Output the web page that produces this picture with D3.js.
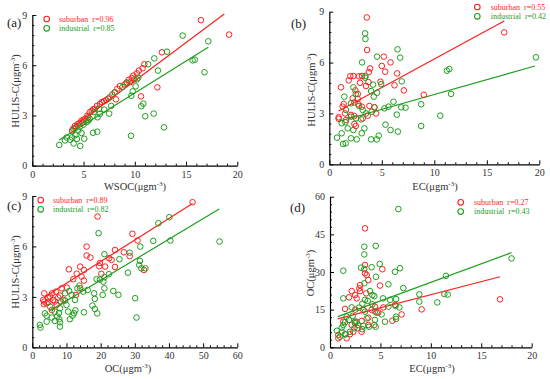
<!DOCTYPE html>
<html>
<head>
<meta charset="utf-8">
<script src="https://cdnjs.cloudflare.com/ajax/libs/d3/7.8.5/d3.min.js"></script>
<style>
body { margin: 0; background: #fff; }
svg { display: block; font-family: "Liberation Serif", "Times New Roman", serif; }
</style>
</head>
<body>
<svg class="mainSvg" width="550" height="379"></svg>
<script>
var red = "#ff1f1f", green = "#1e9e1e";

// (a) WSOC vs HULIS-C
var subA = [[16.45,8.69],[19.2,7.83],[12.65,6.77],[10.93,6.06],[10.76,5.82],[10.4,5.68],[10.2,5.52],[9.85,5.38],[9.7,5.24],[9.95,5.15],
  [12.2,4.68],[10.6,4.14],[9.4,5.12],[9.2,4.96],[8.55,4.76],[8.3,4.6],[8.06,4.38],[8.16,3.96],[7.8,4.25],[7.4,4.0],[7.2,3.92],[6.6,3.69],
  [6.3,3.57],[5.95,3.37],[5.6,3.19],[5.37,2.99],[5.45,2.9],[5.17,2.81],[4.8,2.69],[4.6,2.55],[4.4,2.47],[4.16,2.37],[4.0,2.22],[3.9,2.12],
  [5.0,2.75],[6.8,3.8],[7.0,3.85],[9.0,4.85],[9.6,5.0],[5.8,3.28],[6.1,3.4],[4.9,2.6]];
var indA = [[14.67,7.77],[17.17,7.43],[13.14,6.81],[11.9,6.41],[11.3,6.06],[12.26,5.68],[15.64,6.29],[15.85,6.33],[16.8,5.58],[10.34,5.26],
  [10.2,5.15],[10.08,4.74],[9.24,4.96],[8.8,4.7],[8.03,4.38],[7.55,4.08],[9.79,4.44],[9.66,4.18],[10.83,3.71],[10.63,3.55],[11.84,3.11],
  [11.02,2.95],[12.85,2.29],[9.63,1.79],[7.7,3.57],[7.5,3.11],[7.02,3.35],[6.6,3.1],[6.37,2.89],[6.34,2.03],[5.92,1.97],[6.0,3.2],[5.6,2.81],
  [5.3,2.6],[5.0,2.45],[4.65,2.33],[4.5,2.1],[4.2,1.83],[5.07,1.61],[4.68,1.18],[3.87,1.69],[4.03,1.33],[4.35,1.6],[3.35,1.69],[3.19,1.51],
  [2.63,1.24],[3.9,2.05],[4.2,2.25],[5.5,2.7],[6.5,3.4],[4.8,1.95],[3.7,1.55]];
var fitSubA = [[4.0,2.33],[18.73,9.06]];
var fitIndA = [[2.63,1.53],[17.17,7.07]];

// (b) EC vs HULIS-C
var subB = [[3.57,8.66],[16.66,7.78],[3.6,6.74],[5.19,6.35],[5.83,6.01],[5.0,5.8],[5.32,5.46],[3.89,5.66],[3.76,5.44],[6.46,5.36],
  [2.0,5.2],[2.29,5.21],[2.83,5.19],[3.12,5.21],[1.85,4.95],[1.11,4.54],[2.48,4.36],[2.71,4.15],[2.93,4.81],[3.5,4.62],[3.73,4.85],
  [4.87,4.87],[6.21,4.66],[7.1,4.36],[9.0,4.1],[2.23,3.89],[2.71,3.85],[1.37,3.56],[1.27,3.4],[2.39,3.65],[2.77,3.54],[3.82,3.44],
  [4.3,3.36],[4.46,3.0],[3.66,2.87],[3.18,2.71],[2.39,2.85],[2.07,2.91],[0.89,2.77],[0.89,2.69],[1.59,2.61],[2.39,2.38],[2.52,2.26],
  [1.5,3.0],[3.1,3.4]];
var indB = [[19.68,6.31],[3.41,7.72],[3.44,7.39],[3.12,6.01],[4.55,6.35],[6.5,6.78],[6.75,6.29],[11.43,5.62],[11.2,5.52],[11.6,4.15],
  [6.9,4.89],[3.44,5.21],[3.41,5.11],[4.17,4.7],[4.94,4.73],[4.55,4.22],[3.98,4.32],[4.24,3.99],[1.43,3.99],[2.29,4.54],[2.52,4.15],
  [6.11,3.69],[8.75,3.54],[6.43,2.93],[10.57,2.87],[8.75,2.26],[5.35,2.34],[5.83,2.02],[6.53,1.93],[4.71,1.69],[4.52,1.47],[3.98,1.47],
  [3.09,1.83],[2.61,1.47],[2.07,1.53],[1.56,1.24],[1.31,1.2],[0.73,1.57],[1.18,1.83],[1.75,2.12],[2.29,2.02],[3.34,2.12],[2.55,2.71],
  [1.59,3.2],[2.07,2.81],[3.03,2.65],[3.5,3.0],[4.04,3.1],[4.3,3.36],[5.25,3.3],[5.64,3.4],[6.85,3.36],[7.26,3.34],[3.18,3.2],
  [2.83,3.44],[2.07,3.6],[1.18,2.42],[1.53,2.48]];
var fitSubB = [[0.89,3.14],[16.66,8.45]];
var fitIndB = [[0.8,2.51],[19.59,5.8]];

// (c) OC vs HULIS-C
var subC = [[46.9,8.63],[19.1,7.78],[29.3,6.75],[30.8,6.35],[15.9,5.99],[24.2,5.79],[15.9,5.46],[17.0,5.34],[26.8,5.65],[28.5,5.42],
  [22.5,5.3],[23.2,5.2],[19.8,5.02],[19.6,4.82],[14.0,4.8],[21.3,4.8],[24.2,4.78],[10.7,4.64],[15.1,4.6],[13.0,4.38],[12.0,4.05],
  [14.4,4.21],[15.1,3.97],[20.2,4.37],[32.7,4.6],[10.1,3.55],[8.6,3.51],[6.9,3.31],[5.8,3.21],[3.5,3.21],[5.2,3.02],[8.1,3.08],
  [9.1,2.82],[6.6,2.72],[4.7,2.92],[3.2,2.82],[3.5,2.72],[4.2,2.62],[5.7,2.22],[14.0,3.51],[12.8,3.12],[3.4,2.56],[7.1,2.52],
  [7.6,2.96],[6.1,2.82],[4.7,2.68]];
var indC = [[40.1,7.74],[36.9,7.38],[19.4,6.79],[40.4,6.35],[35.4,6.33],[54.8,6.29],[31.6,5.99],[21.1,5.54],[25.5,5.24],[28.5,5.63],
  [31.5,5.14],[31.3,4.9],[31.9,4.7],[33.1,4.7],[28.0,4.44],[22.4,4.35],[21.1,4.17],[18.8,4.05],[19.8,4.03],[20.8,3.91],[21.1,3.51],
  [20.6,3.12],[23.7,3.35],[25.2,3.12],[30.1,2.92],[30.5,1.77],[16.2,3.41],[14.9,3.31],[13.8,3.67],[13.2,3.51],[10.8,3.35],[11.5,3.12],
  [18.1,3.21],[18.3,2.88],[17.6,2.48],[18.3,2.28],[19.0,2.02],[15.1,2.08],[12.6,2.2],[12.2,2.02],[11.8,1.88],[11.0,1.67],[10.5,2.12],
  [10.0,2.52],[9.6,2.78],[8.1,2.32],[7.8,2.04],[6.6,2.12],[7.3,1.83],[7.9,1.67],[8.1,1.49],[8.1,1.23],[6.6,1.57],[5.7,1.77],
  [4.2,1.88],[2.2,1.33],[2.4,1.17],[3.7,2.02],[5.2,2.42],[8.4,2.72],[12.5,2.82],[9.6,3.21],[4.2,1.53]];
var fitSubC = [[3.5,2.98],[46.9,8.55]];
var fitIndC = [[5.0,2.16],[54.7,8.23]];

// (d) EC vs OC
var subD = [[3.47,47.4],[16.86,19.1],[3.47,32.8],[3.47,29.5],[3.64,28.8],[3.8,26.8],[5.19,31.1],[4.96,24.6],[2.98,24.8],[2.91,23.5],
  [2.15,22.4],[2.48,20.8],[1.88,19.9],[2.64,19.5],[3.6,21.5],[2.98,22.4],[1.49,15.3],[2.5,15.0],[3.31,14.9],[4.13,14.9],[4.63,13.8],
  [4.46,16.2],[4.79,13.9],[5.29,15.9],[6.45,16.9],[7.1,13.1],[9.09,15.1],[6.18,10.6],[3.8,11.8],[3.14,10.5],[2.48,10.2],[2.15,8.9],
  [1.32,10.2],[0.83,4.9],[0.83,3.6],[1.65,3.6],[2.31,6.2],[2.74,7.6],[3.14,6.2],[1.98,5.2],[3.8,8.9],[4.4,8.9]];
var indD = [[6.78,55.1],[3.4,40.1],[4.53,40.4],[3.4,37.0],[4.93,33.2],[6.94,31.5],[4.13,31.9],[3.07,31.7],[3.4,31.2],[6.45,30.1],
  [1.32,30.5],[4.56,28.1],[11.5,28.5],[18.0,35.4],[3.4,25.5],[5.79,25.1],[7.27,23.6],[3.97,22.4],[4.2,20.8],[4.4,20.4],[8.86,21.1],
  [11.34,21.2],[11.67,21.0],[8.86,18.2],[10.64,17.9],[5.26,19.5],[5.95,18.9],[6.55,19.2],[6.88,15.9],[6.5,16.5],[5.79,16.2],
  [3.74,18.5],[3.21,17.4],[3.47,18.9],[4.2,17.1],[1.32,19.5],[2.15,15.9],[2.88,15.8],[3.47,14.2],[4.46,14.2],[5.12,13.1],[5.45,10.2],
  [6.55,12.2],[6.55,11.3],[4.46,10.9],[4.53,8.2],[3.87,8.2],[3.31,8.6],[3.2,7.2],[2.81,8.9],[2.48,9.6],[1.88,10.9],[1.49,10.0],
  [1.32,8.9],[1.16,7.8],[0.69,6.6],[1.16,6.2],[1.49,5.2],[1.98,6.2],[2.41,7.6],[2.64,10.2],[2.25,12.5],[1.65,12.2],[1.55,5.2],
  [0.99,4.2],[3.64,11.5]];
var fitSubD = [[0.76,11.3],[16.86,28.1]];
var fitIndD = [[0.76,12.2],[18.0,37.7]];

var rSub = ["0.96", "0.55", "0.89", "0.27"];
var rInd = ["0.85", "0.42", "0.82", "0.43"];
var panelNames = ["(a)", "(b)", "(c)", "(d)"];
var xTitles = ["WSOC", "EC", "OC", "EC"];
var yTitles = ["HULIS-C", "HULIS-C", "HULIS-C", "OC"];
var xTicksAll = [[0,5,10,15,20], [0,5,10,15,20], [0,10,20,30,40,50,60], [0,5,10,15,20]];
var yTicksAll = [[0,3,6,9], [0,3,6,9], [0,3,6,9], [0,15,30,45,60]];
var xMinorStep = [1, 1, 2, 1];
var yMinorStep = [0.6, 0.6, 0.6, 3];

// pixel layout of each panel
var layout = [
  {l: 32.3, r: 237.3, b: 165.7, t: 15, lab: [7, 27], leg: [46.7, 19, 59], xl: [135, 190], yl: [15, 91]},
  {l: 329.3, r: 539.3, b: 164.3, t: 11.7, lab: [291, 28], leg: [477.3, 7, 490.7], xl: [435, 190], yl: [311, 90]},
  {l: 32.3, r: 237.3, b: 347.3, t: 196, lab: [7, 210], leg: [40.7, 200, 53], xl: [128, 372], yl: [15, 272]},
  {l: 330, r: 531.7, b: 347.3, t: 196.7, lab: [290, 212], leg: [460.7, 202.3, 474], xl: [432, 372], yl: [310, 273]}
];
var subData = [subA, subB, subC, subD], indData = [indA, indB, indC, indD];
var subFits = [fitSubA, fitSubB, fitSubC, fitSubD], indFits = [fitIndA, fitIndB, fitIndC, fitIndD];

var svg = d3.select(".mainSvg");

function minors(ticks, step) {
  var out = [], max = ticks[ticks.length - 1];
  for (var i = 0; i * step <= max + 1e-9; i++) out.push(+(i * step).toFixed(4));
  return out.filter(function(v) { return ticks.indexOf(v) < 0; });
}

function addUnit(txt, name) {
  txt.text(name + "(\u03bcgm");
  txt.append("tspan").attr("dy", -4).attr("font-size", 7).text("-3");
  txt.append("tspan").attr("dy", 4).text(")");
}

for (var p = 0; p < 4; p++) {
  var L = layout[p];
  var xt = xTicksAll[p], yt = yTicksAll[p];
  var x = d3.scaleLinear().domain([0, xt[xt.length - 1]]).range([L.l, L.r]);
  var y = d3.scaleLinear().domain([0, yt[yt.length - 1]]).range([L.b, L.t]);
  var g = svg.append("g");

  g.append("g").attr("transform", "translate(0," + L.b + ")")
    .call(d3.axisBottom(x).tickValues(minors(xt, xMinorStep[p])).tickSize(-2).tickSizeOuter(0).tickFormat(""))
    .call(function(a) { a.select(".domain").remove(); });
  g.append("g").attr("transform", "translate(" + L.l + ",0)")
    .call(d3.axisLeft(y).tickValues(minors(yt, yMinorStep[p])).tickSize(-2).tickSizeOuter(0).tickFormat(""))
    .call(function(a) { a.select(".domain").remove(); });

  var xa = g.append("g").attr("transform", "translate(0," + L.b + ")")
    .call(d3.axisBottom(x).tickValues(xt).tickSize(-4).tickSizeOuter(0).tickPadding(5));
  var ya = g.append("g").attr("transform", "translate(" + L.l + ",0)")
    .call(d3.axisLeft(y).tickValues(yt).tickSize(-4).tickSizeOuter(0).tickPadding(5));
  [xa, ya].forEach(function(a) {
    a.selectAll("text").attr("font-size", 10).attr("font-family", "Liberation Serif").attr("fill", "#333");
    a.select(".domain").attr("stroke", "#000").attr("stroke-width", 1.2);
  });
  g.selectAll(".tick line").attr("stroke", "#000");

  // fit lines
  var line = d3.line().x(function(d) { return x(d[0]); }).y(function(d) { return y(d[1]); });
  g.append("path").attr("d", line(subFits[p])).attr("stroke", red).attr("stroke-width", 1.2).attr("fill", "none");
  g.append("path").attr("d", line(indFits[p])).attr("stroke", green).attr("stroke-width", 1.2).attr("fill", "none");

  // points
  g.append("g").selectAll("circle").data(subData[p]).enter().append("circle")
    .attr("cx", function(d) { return x(d[0]); }).attr("cy", function(d) { return y(d[1]); })
    .attr("r", 2.8).attr("fill", "none").attr("stroke", red).attr("stroke-width", 1);
  g.append("g").selectAll("circle").data(indData[p]).enter().append("circle")
    .attr("cx", function(d) { return x(d[0]); }).attr("cy", function(d) { return y(d[1]); })
    .attr("r", 2.8).attr("fill", "none").attr("stroke", green).attr("stroke-width", 1);

  // legend
  var rows = [["suburban", rSub[p], red], ["industrial", rInd[p], green]];
  rows.forEach(function(row, i) {
    var cy = L.leg[1] + i * 9.3;
    g.append("circle").attr("cx", L.leg[0]).attr("cy", cy).attr("r", 2.8)
      .attr("fill", "none").attr("stroke", row[2]).attr("stroke-width", 1.1);
    var t = g.append("text").attr("x", L.leg[2]).attr("y", cy + 2.8)
      .attr("font-size", 8).attr("fill", row[2]).text(row[0]);
    var w = t.node().getComputedTextLength();
    g.append("text").attr("x", L.leg[2] + w + 4).attr("y", cy + 2.8)
      .attr("font-size", 8).attr("fill", row[2]).text("r=" + row[1]);
  });

  // panel label
  g.append("text").attr("x", L.lab[0]).attr("y", L.lab[1]).attr("font-size", 13).attr("fill", "#222").text(panelNames[p]);

  // axis titles
  var xl = g.append("text").attr("x", L.xl[0]).attr("y", L.xl[1])
    .attr("text-anchor", "middle").attr("font-size", 10.5).attr("fill", "#333");
  addUnit(xl, xTitles[p]);
  var yl = g.append("text").attr("transform", "translate(" + L.yl[0] + "," + L.yl[1] + ") rotate(-90)")
    .attr("text-anchor", "middle").attr("dy", "0.35em").attr("font-size", 10.5).attr("fill", "#333");
  addUnit(yl, yTitles[p]);
}
</script>
</body>
</html>
